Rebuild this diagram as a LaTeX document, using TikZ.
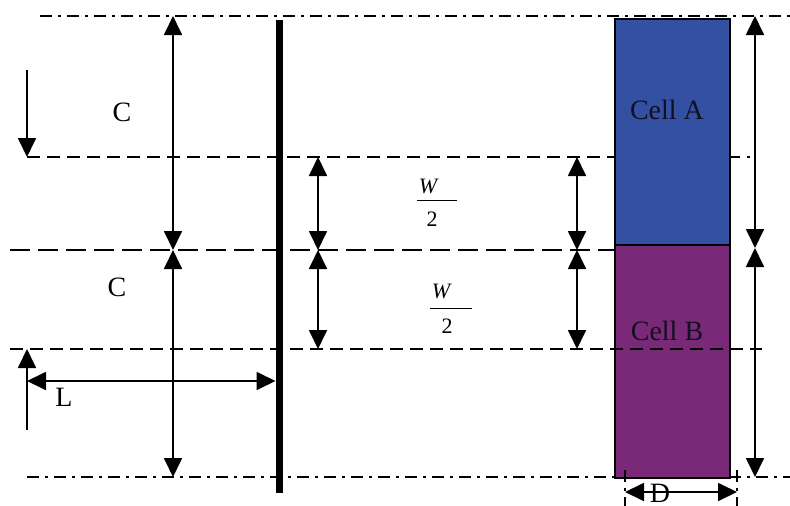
\documentclass[tikz,border=0pt]{standalone}
\usepackage{fontspec}
\setmainfont{Liberation Serif}
\usetikzlibrary{arrows.meta}
\definecolor{cellblue}{HTML}{3350A2}
\definecolor{cellpurple}{HTML}{7A2878}
\definecolor{cellink}{HTML}{101020}
\tikzset{
  dimline/.style={line width=1.8pt,{Triangle[length=19pt,width=18pt]}-{Triangle[length=19pt,width=18pt]}},
  oneway/.style={line width=1.8pt,-{Triangle[length=19pt,width=18pt]}},
  guidedot/.style={line width=1.8pt,dash pattern=on 12pt off 6pt on 3pt off 6pt},
  guidedash/.style={line width=1.8pt,dash pattern=on 13pt off 7pt},
  guidelong/.style={line width=1.8pt,dash pattern=on 20pt off 8pt},
  cellbox/.style={draw=black,line width=1.5pt,anchor=north west,inner sep=0pt},
  biglbl/.style={font=\fontsize{28}{32}\selectfont,inner sep=0pt},
  fraclbl/.style={font=\fontsize{22}{26}\selectfont,inner sep=0pt}
}
\begin{document}
\begin{tikzpicture}[x=1pt,y=-1pt]
  \useasboundingbox (0,0) rectangle (790,506);
  \draw[guidedot] (40,16) -- (790,16);
  \draw[guidedash] (27,157) -- (750,157);
  \draw[guidelong] (10,250) -- (614,250);
  \draw[guidedot] (27,477) -- (790,477);

  \node[cellbox,fill=cellblue,minimum width=115pt,minimum height=226pt] (cellA) at (614,18) {};
  \node[cellbox,fill=cellpurple,minimum width=115pt,minimum height=233pt] (cellB) at (614,244) {};
  \node[biglbl,text=cellink] (cellAlbl) at (667,110) {Cell A};
  \node[biglbl,text=cellink] (cellBlbl) at (667,331) {Cell B};
  \draw[guidedash] (10,349) -- (762,349);

  \draw[line width=7pt] (279,20) coordinate (wallTop) -- (279,493) coordinate (wallBot);

  \coordinate (cTop) at (173,16);
  \coordinate (cMid) at (173,250);
  \coordinate (cBot) at (173,477);
  \draw[dimline] (cTop) -- (cMid);
  \draw[dimline] (cMid) -- (cBot);
  \node[biglbl] (cUpper) at (122,112) {C};
  \node[biglbl] (cLower) at (117,287) {C};

  \draw[oneway] (27,70) coordinate (inTail) -- (27,157) coordinate (inHead);
  \draw[oneway] (27,430) coordinate (outTail) -- (27,349) coordinate (outHead);
  \coordinate (lLeft) at (27,381);
  \coordinate (lRight) at (275.5,381);
  \draw[dimline] (lLeft) -- (lRight);
  \node[biglbl] (lLbl) at (64,397) {L};

  \foreach \xx/\nm in {318/wl,577/wr}{
    \coordinate (\nm Top) at (\xx,157);
    \coordinate (\nm Mid) at (\xx,250);
    \coordinate (\nm Bot) at (\xx,349);
    \draw[dimline] (\nm Top) -- (\nm Mid);
    \draw[dimline] (\nm Mid) -- (\nm Bot);
  }
  \node[fraclbl] (wUpNum) at (428,186) {\itshape W};
  \node[fraclbl] (wUpDen) at (432,219) {2};
  \draw[line width=1pt] (417,200) coordinate (barUpL) -- (457,200) coordinate (barUpR);
  \node[fraclbl] (wLoNum) at (441,291) {\itshape W};
  \node[fraclbl] (wLoDen) at (447,326) {2};
  \draw[line width=1pt] (430,308) coordinate (barLoL) -- (472,308) coordinate (barLoR);

  \coordinate (hTop) at (755,16);
  \coordinate (hMid) at (755,248);
  \coordinate (hBot) at (755,477);
  \draw[dimline] (hTop) -- (hMid);
  \draw[dimline] (hMid) -- (hBot);

  \draw[guidedot,line width=1.5pt] (625,470) coordinate (dTickL) -- (625,506);
  \draw[guidedot,line width=1.5pt] (737,470) coordinate (dTickR) -- (737,506);
  \coordinate (dLeft) at (625,492);
  \coordinate (dRight) at (737,492);
  \draw[dimline] (dLeft) -- (dRight);
  \node[biglbl] (dLbl) at (660,493) {D};
\end{tikzpicture}
\end{document}
